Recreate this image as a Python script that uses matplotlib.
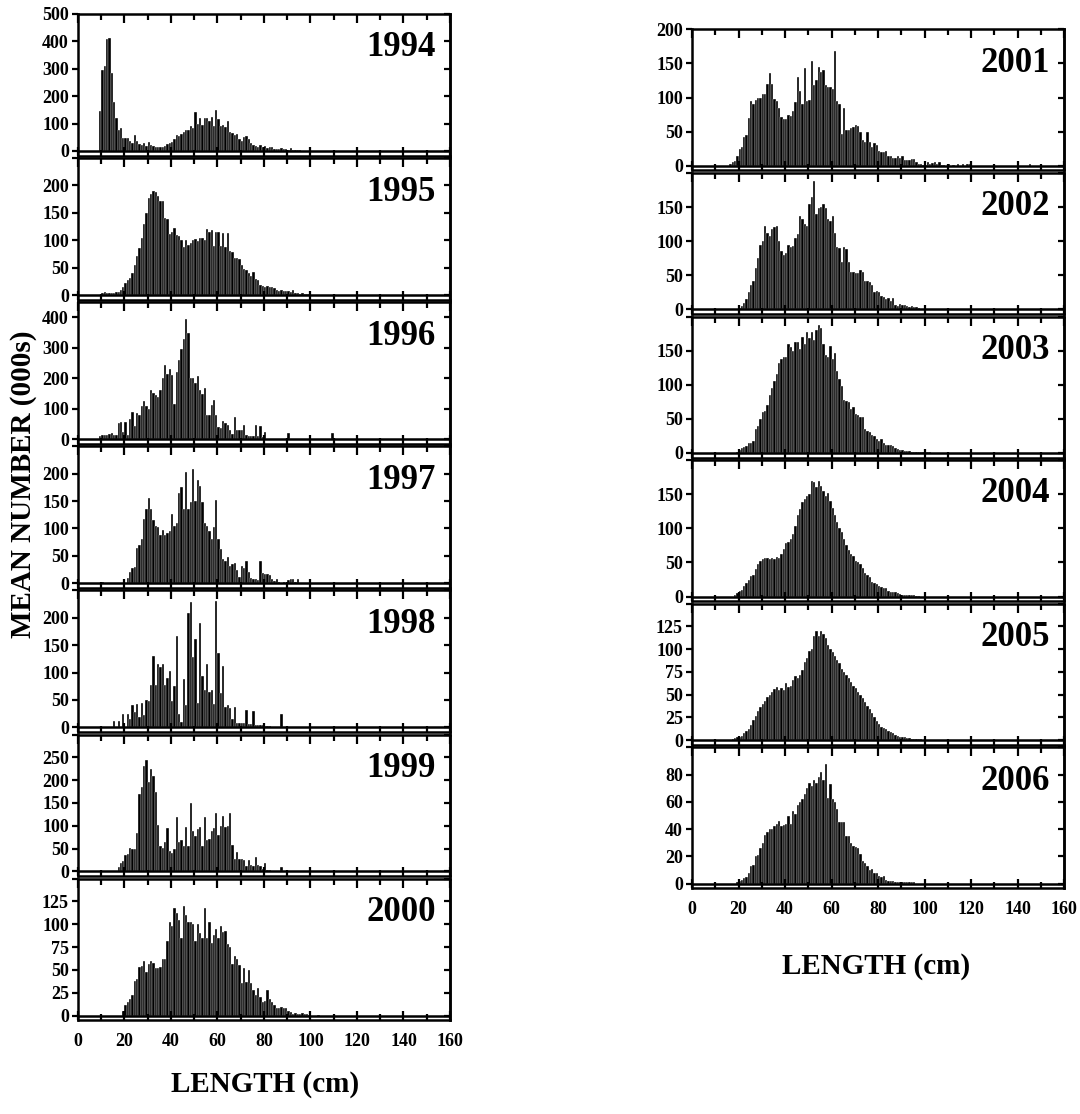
import matplotlib
matplotlib.use('Agg')
import matplotlib.pyplot as plt
import numpy as np

plt.rcParams['font.family'] = ['Liberation Serif', 'DejaVu Serif']
plt.rcParams['font.weight'] = 'bold'

# mean number (000s) per 1-cm length class; each list starts at its START bin
START_1994 = 9
N_1994 = [145, 295, 310, 410, 412, 285, 180, 120, 75, 85, 48, 48, 48, 38, 30, 60, 38, 25, 20, 28,
          18, 32, 20, 18, 15, 15, 15, 16, 18, 25, 28, 32, 45, 60, 55, 62, 68, 75, 78, 90,
          85, 142, 100, 120, 95, 122, 120, 110, 125, 92, 148, 118, 92, 95, 88, 108, 70, 65, 60, 62,
          45, 38, 50, 55, 42, 30, 20, 18, 15, 20, 15, 18, 12, 14, 15, 8, 8, 8, 12, 8,
          6, 5, 10, 4, 3, 2, 5, 1]

START_1995 = 10
N_1995 = [3, 5, 4, 3, 3, 4, 5, 6, 10, 15, 22, 28, 32, 40, 55, 72, 85, 105, 130, 150,
          178, 185, 190, 188, 180, 172, 172, 140, 138, 112, 115, 122, 110, 108, 100, 88, 100, 92, 95, 100,
          103, 98, 104, 105, 100, 120, 115, 118, 90, 115, 115, 90, 113, 88, 113, 80, 78, 67, 68, 65,
          55, 48, 45, 40, 35, 42, 30, 28, 18, 17, 15, 16, 14, 15, 12, 10, 8, 9, 7, 8,
          8, 6, 9, 4, 3, 2, 3, 2, 1, 1]

START_1996 = 9
N_1996 = [10, 14, 15, 15, 18, 20, 14, 12, 52, 55, 25, 55, 12, 65, 88, 42, 85, 78, 110, 125,
          108, 100, 160, 152, 145, 140, 162, 200, 245, 215, 232, 210, 115, 220, 260, 295, 330, 395, 350, 200,
          202, 185, 208, 160, 148, 168, 80, 78, 112, 128, 80, 40, 38, 58, 52, 45, 30, 18, 72, 30,
          30, 30, 48, 12, 10, 10, 10, 45, 10, 42, 8, 22, 0, 0, 0, 0, 0, 0, 0, 0,
          0, 20, 0, 0, 0, 0, 0, 0, 0, 0, 0, 0, 0, 0, 0, 0, 0, 0, 0, 0,
          20]

START_1997 = 10
N_1997 = [2, 0, 0, 0, 0, 0, 0, 0, 0, 0, 0, 10, 20, 28, 30, 65, 70, 80, 118, 135,
          155, 135, 115, 105, 103, 88, 98, 88, 92, 95, 127, 105, 110, 165, 175, 135, 203, 135, 148, 208,
          150, 188, 178, 148, 110, 105, 95, 80, 103, 152, 80, 62, 45, 40, 47, 32, 35, 37, 25, 12,
          32, 28, 40, 20, 10, 8, 7, 6, 40, 18, 17, 17, 15, 8, 5, 8, 3, 0, 2, 0,
          6, 8, 8, 2, 7]

START_1998 = 15
N_1998 = [12, 0, 12, 0, 25, 0, 25, 15, 40, 28, 42, 18, 45, 22, 50, 48, 78, 130, 78, 115,
          110, 115, 78, 90, 103, 48, 75, 167, 25, 10, 88, 40, 208, 228, 128, 162, 45, 190, 93, 68,
          115, 65, 68, 42, 230, 135, 62, 112, 38, 40, 35, 15, 37, 8, 8, 8, 8, 32, 7, 7,
          30, 5, 5, 4, 4, 2, 2, 2, 1, 1, 0, 0, 25]

START_1999 = 17
N_1999 = [10, 18, 22, 35, 38, 52, 50, 50, 85, 170, 185, 230, 245, 195, 225, 210, 175, 102, 55, 52,
          65, 95, 45, 40, 50, 120, 65, 68, 55, 97, 55, 150, 88, 77, 92, 97, 55, 120, 68, 70,
          88, 95, 128, 80, 100, 122, 97, 100, 127, 57, 28, 42, 27, 27, 25, 12, 25, 15, 12, 32,
          15, 12, 5, 18, 3, 3, 2, 0, 0, 0, 10]

START_2000 = 19
N_2000 = [5, 12, 15, 18, 23, 38, 40, 53, 54, 60, 48, 57, 60, 58, 52, 52, 53, 62, 62, 82,
          102, 98, 118, 112, 105, 85, 120, 110, 103, 103, 100, 82, 100, 90, 85, 118, 85, 103, 80, 88,
          95, 85, 98, 92, 93, 78, 75, 57, 65, 62, 55, 36, 52, 37, 50, 36, 28, 22, 30, 20,
          15, 16, 28, 18, 15, 12, 8, 8, 9, 8, 8, 5, 4, 2, 3, 2, 2, 3, 2, 2,
          1, 0, 0, 0, 1]

START_2001 = 16
N_2001 = [3, 5, 7, 15, 25, 27, 42, 45, 70, 95, 90, 97, 100, 100, 105, 105, 120, 136, 120, 98,
          95, 85, 72, 68, 68, 75, 73, 80, 93, 130, 110, 90, 143, 95, 97, 153, 118, 125, 145, 138,
          140, 118, 115, 115, 112, 168, 95, 90, 47, 85, 52, 52, 55, 57, 60, 58, 50, 38, 35, 50,
          35, 28, 33, 30, 22, 20, 20, 22, 15, 15, 12, 12, 15, 12, 15, 8, 8, 8, 10, 10,
          5, 3, 2, 1, 1, 5, 3, 4, 5, 3, 5, 1, 1, 0, 2, 0, 1, 0, 2, 0,
          2, 0, 3, 2, 0, 0, 0, 0, 0, 0, 0, 0, 0, 0, 0, 0, 0, 0, 0, 0,
          0, 0, 0, 0, 0, 0, 0, 0, 0, 2]

START_2002 = 20
N_2002 = [2, 5, 10, 15, 25, 35, 42, 60, 75, 95, 100, 122, 112, 108, 118, 120, 122, 100, 85, 80,
          82, 95, 92, 93, 105, 110, 137, 133, 125, 122, 155, 165, 188, 140, 148, 150, 155, 148, 133, 130,
          137, 112, 92, 90, 70, 92, 88, 70, 55, 55, 53, 53, 58, 55, 42, 42, 40, 35, 25, 27,
          25, 20, 18, 15, 17, 12, 17, 7, 5, 8, 7, 6, 5, 4, 5, 4, 3, 2, 1, 0,
          0, 0, 0, 1]

START_2003 = 19
N_2003 = [2, 5, 7, 9, 10, 14, 15, 18, 35, 40, 50, 60, 62, 70, 85, 95, 105, 115, 132, 138,
          140, 140, 160, 155, 150, 163, 163, 152, 170, 160, 178, 168, 178, 165, 180, 187, 183, 160, 143, 140,
          157, 138, 146, 120, 108, 98, 78, 76, 75, 65, 68, 57, 55, 52, 53, 35, 32, 30, 27, 25,
          20, 18, 20, 15, 12, 12, 12, 10, 8, 6, 5, 4, 3, 3, 3, 2, 2, 2, 1, 1,
          1, 1, 1, 1]

START_2004 = 18
N_2004 = [3, 5, 8, 10, 15, 20, 25, 30, 32, 40, 48, 52, 55, 56, 57, 55, 57, 55, 58, 57,
          62, 70, 78, 80, 85, 92, 103, 120, 128, 138, 143, 148, 150, 170, 168, 160, 170, 162, 155, 148,
          152, 140, 130, 120, 110, 100, 95, 85, 75, 68, 62, 60, 52, 50, 48, 42, 35, 32, 28, 22,
          20, 18, 15, 14, 12, 12, 8, 7, 7, 6, 5, 4, 3, 3, 2, 2, 2, 2, 1, 1]

START_2005 = 17
N_2005 = [1, 2, 3, 4, 5, 8, 10, 12, 17, 22, 27, 32, 37, 40, 43, 47, 50, 53, 56, 58,
          55, 57, 55, 63, 58, 60, 66, 70, 68, 72, 77, 86, 90, 98, 100, 115, 120, 115, 120, 117,
          112, 105, 100, 97, 92, 88, 85, 78, 75, 72, 68, 64, 60, 57, 53, 50, 46, 42, 38, 34,
          30, 25, 21, 18, 14, 13, 12, 10, 9, 8, 6, 5, 4, 4, 3, 2, 2, 1, 1, 1,
          1, 1]

START_2006 = 19
N_2006 = [1, 2, 3, 4, 5, 8, 13, 14, 20, 21, 26, 30, 36, 38, 40, 40, 42, 44, 46, 42,
          43, 44, 50, 44, 53, 51, 58, 60, 62, 66, 70, 74, 72, 76, 74, 78, 82, 76, 88, 63,
          73, 62, 60, 55, 45, 45, 45, 35, 35, 30, 28, 27, 26, 22, 17, 15, 13, 10, 11, 8,
          8, 6, 5, 6, 3, 2, 2, 2, 1, 1, 1, 1, 1, 1, 1, 1, 1]

# (year, start, counts, y max, y step)
LEFT = [(1994, START_1994, N_1994, 500, 100),
        (1995, START_1995, N_1995, 250, 50),
        (1996, START_1996, N_1996, 450, 100),
        (1997, START_1997, N_1997, 250, 50),
        (1998, START_1998, N_1998, 250, 50),
        (1999, START_1999, N_1999, 300, 50),
        (2000, START_2000, N_2000, 150, 25)]
RIGHT = [(2001, START_2001, N_2001, 200, 50),
         (2002, START_2002, N_2002, 200, 50),
         (2003, START_2003, N_2003, 200, 50),
         (2004, START_2004, N_2004, 200, 50),
         (2005, START_2005, N_2005, 150, 25),
         (2006, START_2006, N_2006, 100, 20)]

W, H = 1080, 1114
fig = plt.figure(figsize=(W / 100, H / 100), dpi=100)


def draw_panel(ax, year, start, counts, ymax, step, first, last):
    x = np.arange(start, start + len(counts))
    ax.bar(x, counts, width=1.0, align='edge', color='black',
           edgecolor='white', linewidth=0.25)
    ax.axhline(0, color='black', lw=1.8, zorder=3)
    ax.set_xlim(0, 160)
    ax.set_ylim(-0.034 * ymax, ymax)
    ticks = np.arange(0, ymax + 1, step)
    ax.set_yticks(ticks)
    ax.set_yticklabels([str(t) if (t < ymax or first) else '' for t in ticks])
    ax.set_xticks(np.arange(0, 161, 20))
    ax.set_xticks(np.arange(10, 160, 20), minor=True)
    if not last:
        ax.set_xticklabels([])
    for s in ax.spines.values():
        s.set_linewidth(1.8)
    # x ticks: inward on top, short inward ticks at the bottom (fill the gap under the zero line)
    ax.tick_params(axis='x', which='both', direction='in', top=True, bottom=True,
                   width=1.6, labelsize=13, pad=9)
    ax.tick_params(axis='x', which='major', length=6.5)
    ax.tick_params(axis='x', which='minor', length=4)
    ax.tick_params(axis='x', which='both', bottom=True)
    ax.tick_params(axis='y', which='major', direction='out', left=True, right=False,
                   width=1.6, length=4.5, labelsize=13, pad=2)
    sec = ax.secondary_yaxis('right')
    sec.set_yticks(ticks)
    sec.tick_params(axis='y', direction='in', length=4.5, width=1.6, labelright=False)
    sec.spines['right'].set_linewidth(1.8)
    ax.text(0.962, 0.70, str(year), transform=ax.transAxes, ha='right',
            va='baseline', fontsize=25, fontweight='bold')


def column(panels, x0, top, pitch):
    for i, (year, start, counts, ymax, step) in enumerate(panels):
        h = pitch - 2.5
        y_top = top + i * pitch
        ax = fig.add_axes([x0 / W, 1 - (y_top + h) / H, 372 / W, h / H])
        draw_panel(ax, year, start, counts, ymax, step, i == 0, i == len(panels) - 1)


column(LEFT, 78, 14, 144.1)
column(RIGHT, 692, 29.3, 143.6)

fig.text(265 / W, 1 - 1085 / H, 'LENGTH (cm)', ha='center', va='center', fontsize=21)
fig.text(876 / W, 1 - 966 / H, 'LENGTH (cm)', ha='center', va='center', fontsize=21)
fig.text(24 / W, 1 - 484 / H, 'MEAN NUMBER (000s)', ha='center', va='center',
         rotation=90, fontsize=21)

fig.savefig('out.png', dpi=100)
